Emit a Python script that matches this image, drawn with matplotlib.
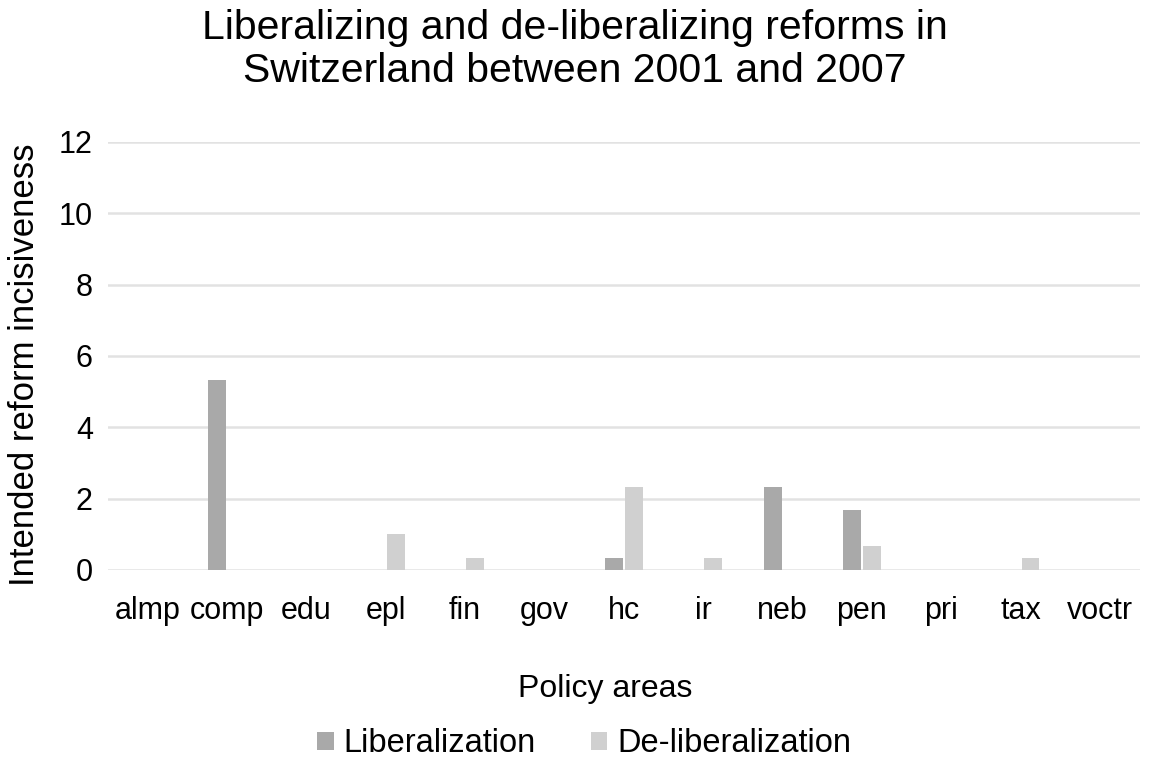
import numpy as np
import matplotlib
matplotlib.use('Agg')
import matplotlib.pyplot as plt

plt.rcParams['font.family'] = ['Liberation Sans', 'DejaVu Sans']

areas = ['almp', 'comp', 'edu', 'epl', 'fin', 'gov', 'hc', 'ir', 'neb', 'pen', 'pri', 'tax', 'voctr']
liberalization = [0, 5.33, 0, 0, 0, 0, 0.33, 0, 2.33, 1.67, 0, 0, 0]
deliberalization = [0, 0, 0, 1.0, 0.33, 0, 2.33, 0.33, 0, 0.67, 0, 0.33, 0]
yticks = [0, 2, 4, 6, 8, 10, 12]

fig = plt.figure(figsize=(11.5, 7.63), dpi=100)
ax = fig.add_axes([0.094, 0.253, 0.897, 0.561])

x = np.arange(len(areas))
w = 0.225
ax.bar(x - 0.125, liberalization, w, color='#a9a9a9', label='Liberalization', zorder=3)
ax.bar(x + 0.125, deliberalization, w, color='#d0d0d0', label='De-liberalization', zorder=3)

ax.set_xlim(-0.5, len(areas) - 0.5)
ax.set_ylim(0, 12)
ax.set_yticks(yticks)
ax.set_xticks(x)
ax.set_xticklabels(areas)
ax.tick_params(axis='both', length=0, labelsize=22, colors='#000000')
ax.tick_params(axis='x', pad=19)
ax.tick_params(axis='y', pad=11)
ax.grid(axis='y', color='#e2e2e2', linewidth=1.8, zorder=0)
for s in ax.spines.values():
    s.set_visible(False)

ax.set_xlabel('Policy areas', fontsize=23)
ax.xaxis.set_label_coords(0.482, -0.243)
ax.set_ylabel('Intended reform incisiveness', fontsize=25)
ax.yaxis.set_label_coords(-0.065, 0.48)
fig.text(0.5, 0.988, 'Liberalizing and de-liberalizing reforms in\nSwitzerland between 2001 and 2007',
         ha='center', va='top', fontsize=29.5, linespacing=1.15)

fig.legend(loc='center', bbox_to_anchor=(0.508, 0.025), ncol=2, frameon=False, fontsize=23.5,
           handlelength=0.5, handleheight=0.5, columnspacing=1.7, handletextpad=0.3)

fig.savefig('out.png', dpi=100, facecolor='white')
